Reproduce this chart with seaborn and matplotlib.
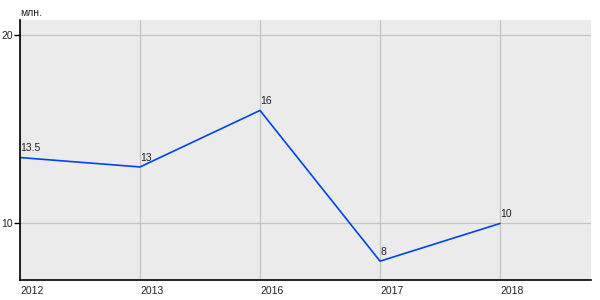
import matplotlib
matplotlib.use("Agg")
import matplotlib.pyplot as plt
import seaborn as sns
import pandas as pd

years = ["2012", "2013", "2016", "2017", "2018"]
values = [13.5, 13, 16, 8, 10]
value_labels = ["13.5", "13", "16", "8", "10"]
y_ticks = [10, 20]
unit_label = "млн."

sns.set_theme(style="darkgrid")
plt.rcParams['font.family'] = ['Liberation Sans', 'DejaVu Sans']

df = pd.DataFrame({"year": years, "value": values})
df["pos"] = range(len(years))

fig = plt.figure(figsize=(6, 3), dpi=100)
ax = fig.add_axes([20/600, 20/300, 571/600, 260/300])
ax.set_facecolor("#ebebeb")

sns.lineplot(data=df, x="pos", y="value", ax=ax, color="#0044ee", linewidth=1.2)

ax.set_xlim(0, 4.758)
ax.set_ylim(7, 20.8)
ax.set_xticks(df["pos"])
ax.set_xticklabels(years, ha="left", fontsize=7.5, color="#222222")
ax.set_yticks(y_ticks)
ax.set_yticklabels([str(t) for t in y_ticks], fontsize=7.5, color="#222222")
ax.grid(True, color="#c4c4c4", linewidth=0.9)
ax.set_xlabel("")
ax.set_ylabel("")

for s in ["top", "right"]:
    ax.spines[s].set_visible(False)
for s in ["left", "bottom"]:
    ax.spines[s].set_visible(True)
    ax.spines[s].set_color("black")
    ax.spines[s].set_linewidth(1.2)

ax.tick_params(axis="y", length=4, width=1, color="black", pad=1, left=True)
ax.tick_params(axis="x", length=0, pad=4)

for p, v, lab in zip(df["pos"], values, value_labels):
    ax.annotate(lab, (p, v), xytext=(0, 3), textcoords="offset points",
                ha="left", va="bottom", fontsize=7.5, color="#222222")

fig.text(20/600, 1 - 13/300, unit_label, ha="left", va="center", fontsize=7.5, color="#222222")

fig.savefig("out.png", dpi=100)
